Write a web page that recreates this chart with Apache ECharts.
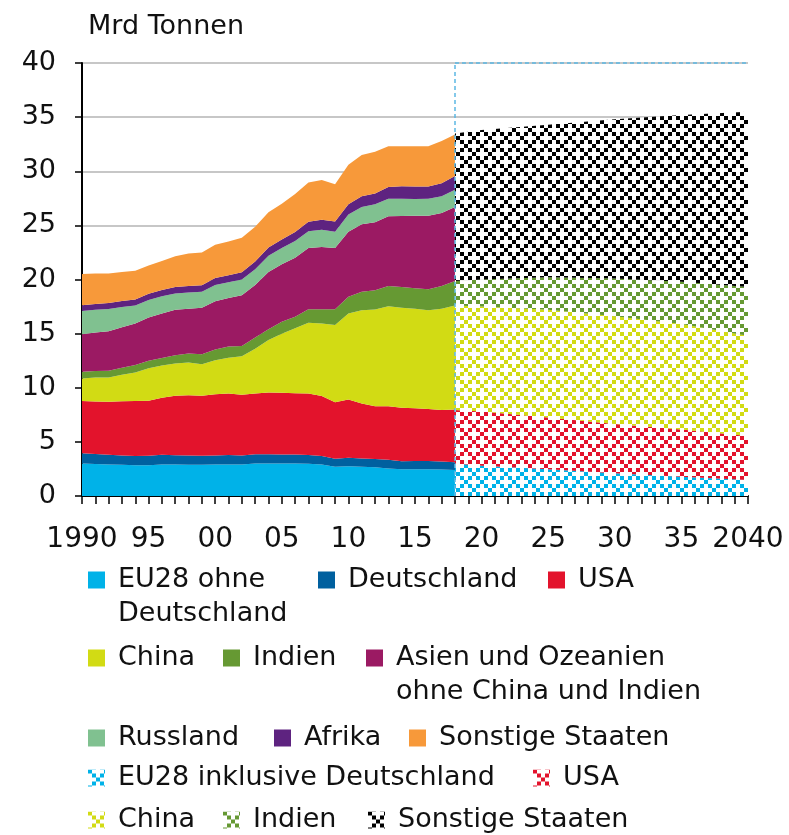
<!DOCTYPE html>
<html>
<head>
<meta charset="utf-8">
<script src="https://cdn.jsdelivr.net/npm/echarts@6/dist/echarts.min.js"></script>
<style>
html,body{margin:0;padding:0;background:#fff;}
#main{width:789px;height:835px;}
</style>
</head>
<body>
<div id="main"></div>
<script>
// Jahre der historischen Werte (1990-2018)
var years = [1990,1991,1992,1993,1994,1995,1996,1997,1998,1999,2000,2001,2002,2003,2004,2005,2006,2007,2008,2009,2010,2011,2012,2013,2014,2015,2016,2017,2018];
var eu28OhneDE = [3.0,2.95,2.92,2.88,2.83,2.85,2.9,2.9,2.88,2.88,2.9,2.92,2.9,3.0,3.0,3.0,3.0,2.98,2.9,2.7,2.75,2.7,2.65,2.55,2.46,2.48,2.46,2.44,2.4];
var deutschland = [0.95,0.92,0.88,0.87,0.86,0.87,0.9,0.87,0.86,0.84,0.85,0.87,0.85,0.85,0.85,0.83,0.84,0.8,0.8,0.75,0.78,0.76,0.77,0.79,0.75,0.76,0.77,0.75,0.72];
var usa = [4.82,4.85,4.9,5.0,5.08,5.08,5.28,5.49,5.56,5.54,5.65,5.69,5.6,5.63,5.72,5.71,5.66,5.7,5.53,5.2,5.39,5.09,4.88,4.94,4.94,4.86,4.8,4.75,4.88];
var china = [2.09,2.23,2.25,2.45,2.63,3.0,2.97,2.99,3.04,2.92,3.15,3.29,3.55,4.12,4.83,5.46,6.0,6.52,6.71,7.15,7.94,8.62,8.93,9.26,9.25,9.2,9.14,9.36,9.6];
var indien = [0.62,0.6,0.62,0.65,0.7,0.7,0.7,0.75,0.83,0.92,0.99,1.03,0.95,1.05,1.0,1.1,1.05,1.26,1.32,1.46,1.54,1.69,1.77,1.86,1.9,1.9,1.93,2.1,2.25];
var asien = [3.47,3.55,3.66,3.75,3.84,4.0,4.1,4.2,4.13,4.3,4.46,4.5,4.7,4.85,5.3,5.3,5.45,5.64,5.74,5.64,6.0,6.24,6.3,6.45,6.57,6.68,6.8,6.75,6.85];
var russland = [2.15,2.1,2.05,1.85,1.65,1.6,1.6,1.5,1.5,1.46,1.5,1.45,1.45,1.45,1.5,1.5,1.55,1.55,1.6,1.5,1.6,1.6,1.65,1.6,1.6,1.55,1.55,1.55,1.6];
var afrika = [0.53,0.54,0.55,0.56,0.57,0.58,0.59,0.6,0.61,0.62,0.63,0.65,0.68,0.72,0.76,0.8,0.84,0.88,0.92,0.95,0.95,0.98,1.0,1.1,1.15,1.15,1.15,1.2,1.25];
var sonstige = [2.87,2.81,2.72,2.69,2.64,2.62,2.66,2.85,2.99,3.02,3.07,3.1,3.17,3.2,3.25,3.3,3.51,3.62,3.68,3.45,3.65,3.82,3.85,3.75,3.68,3.72,3.7,3.9,3.85];

// Projektion (Stuetzjahre)
var projYears = [2018,2020,2025,2030,2035,2040];
var eu28Proj = [3.0,2.8,2.46,2.1,1.78,1.48];
var usaProj = [4.94,5.0,4.8,4.55,4.37,4.06];
var chinaProj = [9.66,9.7,9.94,9.95,9.75,9.26];
var indienProj = [2.25,2.5,3.0,3.5,3.9,4.5];
var sonstigeProj = [13.63,13.8,14.1,14.7,15.4,16.2];

var FONT = 'DejaVu Sans';

// Kategorien der x-Achse: jedes Jahr 1990-2040
var categories = [];
for(var y = 1990; y <= 2040; y++){ categories.push(String(y)); }

// Muster fuer die Projektion (weisser Grund, damit Gitterlinien verdeckt sind)
function makePattern(color){
	var c = document.createElement('canvas');
	c.width = 16; c.height = 16;
	var g = c.getContext('2d');
	g.fillStyle = '#ffffff';
	g.fillRect(0, 0, 16, 16);
	g.fillStyle = color;
	[[0,0],[1,1],[2,2],[3,3],[1,3],[3,1]].forEach(function(p){
		g.fillRect(p[0]*4, p[1]*4, 4, 4);
	});
	return {image: c, repeat: 'repeat'};
}

var histDefs = [
	{name:'EU28 ohne Deutschland', data:eu28OhneDE, color:'#00b2e8'},
	{name:'Deutschland', data:deutschland, color:'#00609f'},
	{name:'USA', data:usa, color:'#e3132c'},
	{name:'China', data:china, color:'#d2db14'},
	{name:'Indien', data:indien, color:'#669933'},
	{name:'Asien und Ozeanien ohne China und Indien', data:asien, color:'#9b1a63'},
	{name:'Russland', data:russland, color:'#80c190'},
	{name:'Afrika', data:afrika, color:'#5e2380'},
	{name:'Sonstige Staaten', data:sonstige, color:'#f7993a'}
];
var projDefs = [
	{name:'EU28 inklusive Deutschland', data:eu28Proj, color:makePattern('#00b2e8')},
	{name:'USA ', data:usaProj, color:makePattern('#e3132c')},
	{name:'China ', data:chinaProj, color:makePattern('#d2db14')},
	{name:'Indien ', data:indienProj, color:makePattern('#669933')},
	{name:'Sonstige Staaten ', data:sonstigeProj, color:makePattern('#000000')}
];

var series = [];
histDefs.forEach(function(d){
	series.push({
		name:d.name, type:'line', stack:'hist', xAxisIndex:0,
		data:d.data.map(function(v, i){ return [String(years[i]), v]; }),
		showSymbol:false, symbol:'none', silent:true,
		lineStyle:{width:0}, itemStyle:{color:d.color},
		areaStyle:{color:d.color, opacity:1}
	});
});
// Projektion auf einer verdeckten Werteachse; Wert zuerst, damit der Wert gestapelt wird
projDefs.forEach(function(d){
	series.push({
		name:d.name, type:'line', stack:'proj', xAxisIndex:1,
		data:d.data.map(function(v, i){ return [v, projYears[i]]; }),
		encode:{x:1, y:0},
		showSymbol:false, symbol:'none', silent:true,
		lineStyle:{width:0}, itemStyle:{color:d.color},
		areaStyle:{color:d.color, opacity:1}
	});
});
// gestrichelte Umrandung des Prognosebereichs, eigene Ebene ueber allen Flaechen
series.push({
	type:'line', xAxisIndex:0, data:[], zlevel:1, z:10, silent:true,
	markLine:{
		silent:true, symbol:['none','none'], label:{show:false},
		lineStyle:{color:'#5cb8e4', type:[4,3], width:1.5},
		data:[
			[{coord:['2018',0]},{coord:['2018',40]}],
			[{coord:['2018',40]},{coord:['2040',40]}]
		]
	}
});

// Legende: Position je Eintrag (Icon links, Icon-Mitte y), zweizeilige Texte
var legendPos = [
	['EU28 ohne Deutschland',88,580,'EU28 ohne\nDeutschland'],
	['Deutschland',318,580],
	['USA',548,580],
	['China',88,658],
	['Indien',223,658],
	['Asien und Ozeanien ohne China und Indien',366,658,'Asien und Ozeanien\nohne China und Indien'],
	['Russland',88,738],
	['Afrika',274,738],
	['Sonstige Staaten',409,738],
	['EU28 inklusive Deutschland',88,778],
	['USA ',533,778],
	['China ',88,820],
	['Indien ',223,820],
	['Sonstige Staaten ',368,820]
];
var allDefs = histDefs.concat(projDefs);
var LH = 34;
var legends = legendPos.map(function(p){
	var def = allDefs.filter(function(d){ return d.name === p[0]; })[0];
	var twoLines = !!p[3];
	return {
		show:true, selectedMode:false, padding:0, orient:'horizontal',
		left:p[1], top: twoLines ? p[2] - 1.5*LH : p[2] - LH/2,
		icon:'rect', itemWidth:17, itemHeight:17,
		data:[{name:p[0], itemStyle:{color:def.color}}],
		// leere erste Zeile, damit die erste Textzeile neben dem Icon steht
		formatter: function(){ return twoLines ? '\n' + p[3] : p[0].trim(); },
		textStyle:{fontFamily:FONT, fontSize:27, color:'#111', lineHeight:LH, padding:[0,0,0,8]}
	};
});

var myChart = echarts.init(document.getElementById('main'));
var option = {
	animation:false,
	backgroundColor:'#fff',
	grid:{left:82, right:41, top:63, bottom:339},
	legend:legends,
	xAxis:[{
		type:'category', data:categories, boundaryGap:false,
		axisLine:{lineStyle:{color:'#000', width:2}},
		axisTick:{show:true, interval:0, length:8, lineStyle:{color:'#000', width:1.5}},
		splitLine:{show:false},
		axisLabel:{
			interval:4, margin:30, color:'#111', fontFamily:FONT, fontSize:28,
			formatter:function(v){
				var n = Number(v);
				if(n === 1990 || n === 2040) return v;
				return v.slice(2);
			}
		}
	},{
		type:'value', min:1990, max:2040, show:false
	}],
	yAxis:{
		type:'value', min:0, max:40, interval:5,
		name:'Mrd Tonnen', nameLocation:'end', nameGap:36,
		nameTextStyle:{fontFamily:FONT, fontSize:27, color:'#111', align:'left', verticalAlign:'middle', padding:[0,0,0,6]},
		axisLine:{show:true, lineStyle:{color:'#000', width:2}},
		axisTick:{show:true, length:7, lineStyle:{color:'#000', width:1.5}},
		splitLine:{show:true, lineStyle:{color:'#b5b5b5', width:1.5}},
		axisLabel:{margin:26, color:'#111', fontFamily:FONT, fontSize:27}
	},
	series:series
};
myChart.setOption(option);
</script>
</body>
</html>
